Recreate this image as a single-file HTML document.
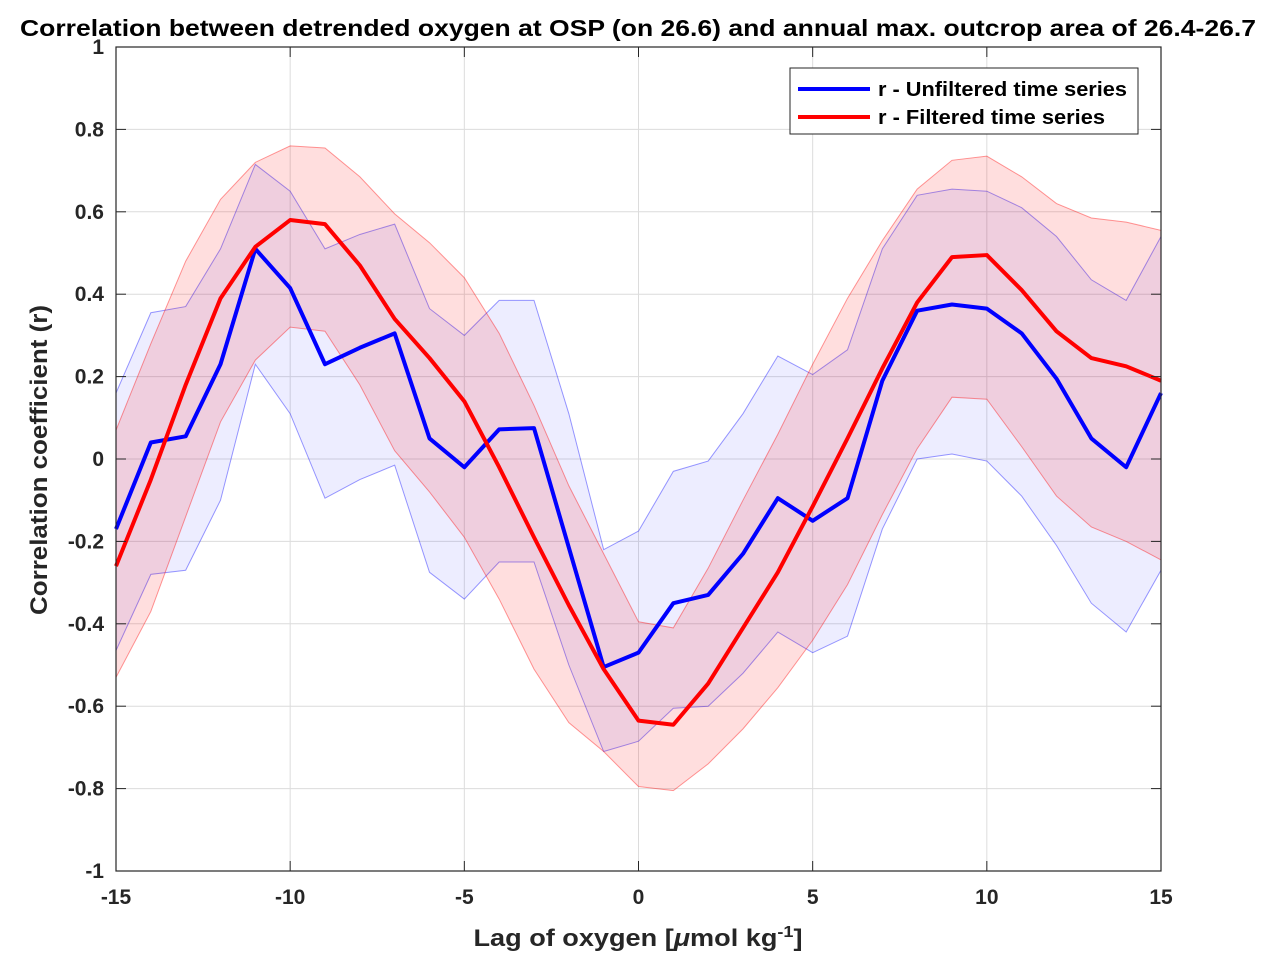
<!DOCTYPE html>
<html><head><meta charset="utf-8"><style>
body{margin:0;background:#fff;font-family:"Liberation Sans",sans-serif}
svg text{font-family:"Liberation Sans",sans-serif;font-weight:bold;fill:#262626}
</style></head><body>
<svg id="chart" width="1276" height="971">
<text x="638" y="36" text-anchor="middle" font-size="23" textLength="1236" lengthAdjust="spacingAndGlyphs" style="fill:#000">Correlation between detrended oxygen at OSP (on 26.6) and annual max. outcrop area of 26.4-26.7</text>
<g id="grid"></g><g id="bands"></g><g id="lines"></g><g id="axes"></g>
<g>
<rect x="790" y="68" width="348" height="66" fill="#fff" stroke="#262626" stroke-width="1"/>
<line x1="798" y1="89" x2="870" y2="89" stroke="#0000ff" stroke-width="4"/>
<text x="878" y="96" font-size="20" textLength="249" lengthAdjust="spacingAndGlyphs" style="fill:#000">r - Unfiltered time series</text>
<line x1="798" y1="117" x2="870" y2="117" stroke="#ff0000" stroke-width="4"/>
<text x="878" y="124" font-size="20" textLength="227" lengthAdjust="spacingAndGlyphs" style="fill:#000">r - Filtered time series</text>
</g>
<text x="638" y="946" text-anchor="middle" font-size="24" textLength="329" lengthAdjust="spacingAndGlyphs">Lag of oxygen [<tspan font-style="italic">μ</tspan>mol kg<tspan dy="-9" font-size="16">-1</tspan><tspan dy="9">]</tspan></text>
<text transform="translate(47,460) rotate(-90)" text-anchor="middle" font-size="24" textLength="310" lengthAdjust="spacingAndGlyphs">Correlation coefficient (r)</text>
</svg>
<script>
const lags=[-15,-14,-13,-12,-11,-10,-9,-8,-7,-6,-5,-4,-3,-2,-1,0,1,2,3,4,5,6,7,8,9,10,11,12,13,14,15];
const blueR=[-0.17,0.04,0.055,0.23,0.51,0.415,0.23,0.27,0.305,0.05,-0.02,0.072,0.075,-0.215,-0.505,-0.47,-0.35,-0.33,-0.23,-0.095,-0.15,-0.095,0.19,0.36,0.375,0.365,0.305,0.195,0.05,-0.02,0.16];
const blueUp=[0.16,0.355,0.37,0.51,0.715,0.65,0.51,0.545,0.57,0.365,0.30,0.385,0.385,0.11,-0.22,-0.175,-0.03,-0.005,0.11,0.25,0.205,0.265,0.51,0.64,0.655,0.65,0.61,0.54,0.435,0.385,0.54];
const blueLo=[-0.465,-0.28,-0.27,-0.1,0.23,0.11,-0.095,-0.05,-0.015,-0.275,-0.34,-0.25,-0.25,-0.5,-0.71,-0.685,-0.605,-0.6,-0.52,-0.42,-0.47,-0.43,-0.17,0.0,0.012,-0.005,-0.09,-0.21,-0.35,-0.42,-0.27];
const redR=[-0.26,-0.05,0.18,0.39,0.515,0.58,0.57,0.47,0.34,0.245,0.14,-0.02,-0.19,-0.355,-0.51,-0.635,-0.645,-0.545,-0.41,-0.275,-0.115,0.05,0.22,0.38,0.49,0.495,0.41,0.31,0.245,0.225,0.19];
const redUp=[0.07,0.28,0.48,0.63,0.72,0.76,0.755,0.685,0.595,0.525,0.44,0.305,0.13,-0.065,-0.23,-0.395,-0.41,-0.265,-0.1,0.06,0.23,0.39,0.53,0.655,0.725,0.735,0.685,0.62,0.585,0.575,0.555];
const redLo=[-0.53,-0.37,-0.14,0.09,0.24,0.32,0.31,0.18,0.02,-0.08,-0.19,-0.34,-0.51,-0.64,-0.71,-0.795,-0.805,-0.74,-0.655,-0.555,-0.44,-0.305,-0.135,0.025,0.15,0.145,0.03,-0.09,-0.165,-0.2,-0.245];
const xTicks=[-15,-10,-5,0,5,10,15];
const yTicks=[-1,-0.8,-0.6,-0.4,-0.2,0,0.2,0.4,0.6,0.8,1];
const yTickLabels=["-1","-0.8","-0.6","-0.4","-0.2","0","0.2","0.4","0.6","0.8","1"];
const L=116,R=1161,T=47,B=871;
const xs=v=>L+(v+15)/30*(R-L), ys=v=>T+(1-v)/2*(B-T);
const NS="http://www.w3.org/2000/svg";
function mk(p,tag,at){const e=document.createElementNS(NS,tag);for(const k in at)e.setAttribute(k,at[k]);document.getElementById(p).appendChild(e);return e;}
xTicks.forEach(t=>{const e=mk('grid','line',{x1:xs(t),x2:xs(t),y1:T,y2:B,stroke:'#dcdcdc','stroke-width':1});


const tx=mk('axes','text',{x:xs(t),y:B+33,'text-anchor':'middle','font-size':21});tx.textContent=t;


mk('axes','line',{x1:xs(t),x2:xs(t),y1:B,y2:B-10,stroke:'#262626'});mk('axes','line',{x1:xs(t),x2:xs(t),y1:T,y2:T+10,stroke:'#262626'});});
yTicks.forEach((t,i)=>{const e=mk('grid','line',{x1:L,x2:R,y1:ys(t),y2:ys(t),stroke:'#dcdcdc','stroke-width':1});


const tx=mk('axes','text',{x:L-12,y:ys(t)+7,'text-anchor':'end','font-size':21});tx.textContent=yTickLabels[i];


mk('axes','line',{x1:L,x2:L+10,y1:ys(t),y2:ys(t),stroke:'#262626'});mk('axes','line',{x1:R,x2:R-10,y1:ys(t),y2:ys(t),stroke:'#262626'});});
const box=mk('axes','rect',{x:L,y:T,width:R-L,height:B-T,fill:'none',stroke:'#262626','stroke-width':1.2});


function band(up,lo,fill,op,name){const pts=lags.map((l,i)=>xs(l)+','+ys(up[i])).concat(lags.slice().reverse().map((l,j)=>{const i=lags.length-1-j;return xs(l)+','+ys(lo[i]);}));
const p=mk('bands','polygon',{points:pts.join(' '),fill:fill,'fill-opacity':op,stroke:fill,'stroke-opacity':0.4,'stroke-width':1});

}
band(blueUp,blueLo,'#0000ff',0.07,'unfiltered-confidence-band');
band(redUp,redLo,'#ff0000',0.13,'filtered-confidence-band');
function line(v,c,name){const p=mk('lines','polyline',{points:lags.map((l,i)=>xs(l)+','+ys(v[i])).join(' '),fill:'none',stroke:c,'stroke-width':4,'stroke-linejoin':'round'});

}
line(blueR,'#0000ff','unfiltered-r-line');
line(redR,'#ff0000','filtered-r-line');
</script>
</body></html>
